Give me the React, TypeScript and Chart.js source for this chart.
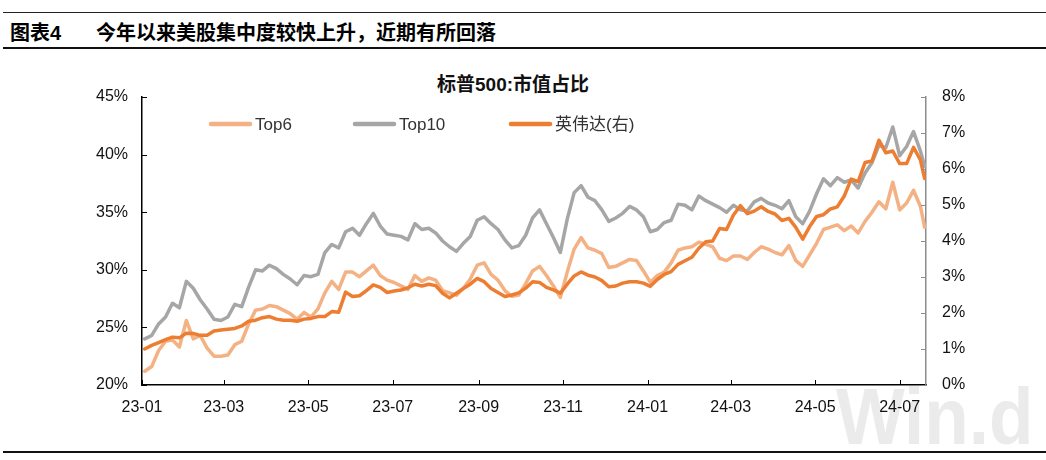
import React, { useEffect, useRef } from 'react';
import { Chart, registerables } from 'chart.js';

Chart.register(...registerables);

const FONT = "'Liberation Sans', Arial, 'Noto Sans CJK SC', sans-serif";

const dates = [
  '2023-01-03', '2023-01-08', '2023-01-13', '2023-01-18', '2023-01-23', '2023-01-28',
  '2023-02-02', '2023-02-07', '2023-02-12', '2023-02-17', '2023-02-22', '2023-02-27',
  '2023-03-04', '2023-03-09', '2023-03-14', '2023-03-19', '2023-03-24', '2023-03-29',
  '2023-04-03', '2023-04-08', '2023-04-13', '2023-04-18', '2023-04-23', '2023-04-28',
  '2023-05-03', '2023-05-08', '2023-05-13', '2023-05-18', '2023-05-23', '2023-05-28',
  '2023-06-02', '2023-06-07', '2023-06-12', '2023-06-17', '2023-06-22', '2023-06-27',
  '2023-07-02', '2023-07-07', '2023-07-12', '2023-07-17', '2023-07-22', '2023-07-27',
  '2023-08-01', '2023-08-06', '2023-08-11', '2023-08-16', '2023-08-21', '2023-08-26', '2023-08-31',
  '2023-09-05', '2023-09-10', '2023-09-15', '2023-09-20', '2023-09-25', '2023-09-30',
  '2023-10-05', '2023-10-10', '2023-10-15', '2023-10-20', '2023-10-25', '2023-10-30',
  '2023-11-04', '2023-11-09', '2023-11-14', '2023-11-19', '2023-11-24', '2023-11-29',
  '2023-12-04', '2023-12-09', '2023-12-14', '2023-12-19', '2023-12-24', '2023-12-29',
  '2024-01-03', '2024-01-08', '2024-01-13', '2024-01-18', '2024-01-23', '2024-01-28',
  '2024-02-02', '2024-02-07', '2024-02-12', '2024-02-17', '2024-02-22', '2024-02-27',
  '2024-03-03', '2024-03-08', '2024-03-13', '2024-03-18', '2024-03-23', '2024-03-28',
  '2024-04-02', '2024-04-07', '2024-04-12', '2024-04-17', '2024-04-22', '2024-04-27',
  '2024-05-02', '2024-05-07', '2024-05-12', '2024-05-17', '2024-05-22', '2024-05-27',
  '2024-06-01', '2024-06-06', '2024-06-11', '2024-06-16', '2024-06-21', '2024-06-26',
  '2024-07-01', '2024-07-06', '2024-07-11', '2024-07-16', '2024-07-19',
];

const top6 = [
  21.2, 21.6, 23.0, 23.8, 23.9, 23.3,
  25.6, 24.0, 24.3, 23.2, 22.5, 22.5,
  22.6, 23.5, 23.8, 25.3, 26.5, 26.6,
  26.9, 26.8, 26.5, 26.2, 25.7, 26.3,
  25.9, 26.6, 28.0, 29.0, 28.3, 29.8,
  29.8, 29.4, 29.9, 30.4, 29.5, 29.1,
  28.9, 28.6, 28.3, 29.5, 29.0, 29.3,
  29.1, 28.2, 28.0, 27.8, 28.4, 29.2, 30.4,
  30.6, 29.6, 29.1, 28.2, 27.7, 27.8,
  28.8, 29.9, 30.3, 29.5, 28.6, 27.6,
  29.8, 31.8, 32.8, 31.9, 31.7, 31.4,
  30.2, 30.3, 30.6, 30.9, 30.8, 29.9,
  28.9, 29.5, 29.8, 30.6, 31.7, 31.9,
  32.0, 32.4, 32.2, 32.0, 31.0, 30.8,
  31.2, 31.2, 30.9, 31.5, 32.0, 31.8,
  31.5, 31.3, 32.1, 30.8, 30.3, 31.3,
  32.3, 33.5, 33.7, 33.9, 33.4, 33.8,
  33.2, 34.2, 35.0, 35.9, 35.3, 37.6,
  35.2, 35.8, 36.9, 35.5, 33.7,
];

const top10 = [
  24.0, 24.3, 25.3, 25.9, 27.1, 26.7,
  29.0, 28.4, 27.4, 26.6, 25.7, 25.6,
  25.9, 27.0, 26.8, 28.5, 30.0, 29.9,
  30.4, 30.1, 29.6, 29.2, 28.7, 29.5,
  29.4, 29.6, 31.5, 32.2, 31.9, 33.3,
  33.6, 33.0, 34.0, 34.9, 33.8, 33.1,
  33.0, 32.9, 32.6, 34.0, 33.5, 33.6,
  33.2, 32.5, 32.0, 31.6, 32.3, 32.9, 34.3,
  34.6, 34.0, 33.5, 32.6, 31.9, 32.1,
  33.0, 34.5, 35.2, 34.0, 32.8, 31.5,
  34.4, 36.7, 37.3, 36.3, 36.0, 35.2,
  34.2, 34.5, 34.9, 35.5, 35.2, 34.6,
  33.3, 33.5, 34.1, 34.3, 35.7, 35.6,
  35.2, 36.4, 36.0, 35.7, 35.4, 35.0,
  35.6, 35.2, 35.1, 35.9, 36.2, 35.8,
  35.6, 35.3, 36.0, 34.6, 34.0, 35.1,
  36.6, 37.9, 37.3, 38.0, 37.6, 37.8,
  37.1, 38.4, 39.3, 40.8, 40.6, 42.4,
  39.9, 40.7, 42.0, 40.3, 39.0,
];

const nvda = [
  1.00, 1.10, 1.18, 1.26, 1.33, 1.31,
  1.44, 1.43, 1.38, 1.38, 1.50, 1.53,
  1.55, 1.57, 1.64, 1.77, 1.80, 1.87,
  1.90, 1.83, 1.80, 1.80, 1.77, 1.83,
  1.85, 1.90, 1.90, 2.04, 2.02, 2.58,
  2.46, 2.48, 2.62, 2.78, 2.71, 2.57,
  2.61, 2.64, 2.70, 2.80, 2.75, 2.80,
  2.76, 2.55, 2.42, 2.55, 2.68, 2.80, 2.96,
  2.87, 2.68, 2.57, 2.46, 2.50, 2.56,
  2.69, 2.87, 2.85, 2.71, 2.64, 2.55,
  2.80, 3.03, 3.14, 3.05, 3.00, 2.90,
  2.73, 2.75, 2.83, 2.87, 2.87, 2.83,
  2.74, 2.93, 3.07, 3.15, 3.35, 3.45,
  3.55, 3.80, 3.98, 4.00, 4.35, 4.32,
  4.72, 4.98, 4.76, 4.83, 4.95, 4.82,
  4.75, 4.57, 4.63, 4.38, 4.05, 4.40,
  4.68, 4.73, 4.89, 4.95, 5.25, 5.72,
  5.65, 6.18, 6.22, 6.80, 6.45, 6.50,
  6.15, 6.15, 6.60, 6.25, 5.74,
];

const seriesLabels = ['Top6', 'Top10', '英伟达(右)'];
const seriesColors = ['#F4B183', '#A6A6A6', '#ED7D31'];
const xTickLabels = ['23-01', '23-03', '23-05', '23-07', '23-09', '23-11', '24-01', '24-03', '24-05', '24-07'];
const xEndDate = '2024-07-20';
const leftRange = [20, 45, 5];
const rightRange = [0, 8, 1];

const BASE = Date.UTC(2023, 0, 1);
const dayOffset = (iso: string) => {
  const [y, m, d] = iso.split('-').map(Number);
  return (Date.UTC(y, m - 1, d) - BASE) / 86400000;
};
const monthOffset = (lbl: string) => {
  const [yy, mm] = lbl.split('-').map(Number);
  return (Date.UTC(2000 + yy, mm - 1, 1) - BASE) / 86400000;
};

const legendPlugin = {
  id: 'customLegend',
  afterDraw(chart: any) {
    const ctx = chart.ctx;
    const xs = [209, 353, 509];
    const y = 69;
    chart.data.datasets.forEach((ds: any, i: number) => {
      ctx.save();
      ctx.strokeStyle = ds.borderColor;
      ctx.lineWidth = 4.5;
      ctx.lineCap = 'round';
      ctx.beginPath();
      ctx.moveTo(xs[i] + 2, y);
      ctx.lineTo(xs[i] + 41, y);
      ctx.stroke();
      ctx.fillStyle = '#333';
      ctx.font = `17px ${FONT}`;
      ctx.textBaseline = 'middle';
      ctx.textAlign = 'left';
      ctx.fillText(ds.label, xs[i] + 46, y + 1);
      ctx.restore();
    });
  },
};

const innerTicksPlugin = {
  id: 'innerTicks',
  afterDraw(chart: any) {
    const ctx = chart.ctx;
    const { x, y, y1 } = chart.scales;
    const area = chart.chartArea;
    ctx.save();
    ctx.lineWidth = 1;
    ctx.strokeStyle = '#000';
    x.ticks.forEach((t: any) => {
      const px = Math.round(x.getPixelForValue(t.value)) + 0.5;
      ctx.beginPath();
      ctx.moveTo(px, area.bottom);
      ctx.lineTo(px, area.bottom - 5);
      ctx.stroke();
    });
    y.ticks.forEach((t: any) => {
      const py = Math.round(y.getPixelForValue(t.value)) + 0.5;
      ctx.beginPath();
      ctx.moveTo(area.left, py);
      ctx.lineTo(area.left + 5, py);
      ctx.stroke();
    });
    ctx.strokeStyle = '#8c8c8c';
    y1.ticks.forEach((t: any) => {
      const py = Math.round(y1.getPixelForValue(t.value)) + 0.5;
      ctx.beginPath();
      ctx.moveTo(area.right, py);
      ctx.lineTo(area.right - 5, py);
      ctx.stroke();
    });
    ctx.restore();
  },
};

export default function App() {
  const canvasRef = useRef<HTMLCanvasElement | null>(null);

  useEffect(() => {
    if (!canvasRef.current) return;
    const xs = dates.map(dayOffset);
    const mk = (vals: number[]) => vals.map((v, i) => ({ x: xs[i], y: v }));
    const values = [top6, top10, nvda];
    const axisIds = ['y', 'y', 'y1'];
    const orders = [2, 1, 0];
    const chart = new Chart(canvasRef.current, {
      type: 'line',
      data: {
        datasets: seriesLabels.map((label, i) => ({
          label,
          data: mk(values[i]),
          borderColor: seriesColors[i],
          backgroundColor: seriesColors[i],
          borderWidth: 3.5,
          pointRadius: 0,
          tension: 0,
          borderCapStyle: 'round',
          borderJoinStyle: 'round',
          yAxisID: axisIds[i],
          order: orders[i],
        })),
      },
      options: {
        animation: false,
        responsive: false,
        layout: { padding: { top: 42, left: 0, right: 0, bottom: 0 } },
        plugins: {
          legend: { display: false },
          tooltip: { enabled: false },
          title: { display: false },
        },
        scales: {
          x: {
            type: 'linear',
            min: 0,
            max: dayOffset(xEndDate),
            afterBuildTicks: (scale: any) => {
              scale.ticks = xTickLabels.map((l) => ({ value: monthOffset(l) }));
            },
            afterFit: (scale: any) => {
              scale.height = 50;
            },
            grid: { display: true, drawOnChartArea: false, drawTicks: false },
            border: { display: true, color: '#000', width: 1.5 },
            ticks: {
              autoSkip: false,
              maxRotation: 0,
              padding: 13,
              color: '#111',
              font: { family: FONT, size: 16 },
              callback: (value: any) => {
                const idx = xTickLabels.findIndex((l) => monthOffset(l) === value);
                return idx >= 0 ? xTickLabels[idx] : '';
              },
            },
          },
          y: {
            type: 'linear',
            position: 'left',
            min: leftRange[0],
            max: leftRange[1],
            afterFit: (scale: any) => {
              scale.width = 142;
            },
            grid: { display: true, drawOnChartArea: false, drawTicks: false },
            border: { display: true, color: '#000', width: 1.5 },
            ticks: {
              stepSize: leftRange[2],
              padding: 14,
              color: '#111',
              font: { family: FONT, size: 16 },
              callback: (v: any) => `${v}%`,
            },
          },
          y1: {
            type: 'linear',
            position: 'right',
            min: rightRange[0],
            max: rightRange[1],
            afterFit: (scale: any) => {
              scale.width = 120;
            },
            grid: { display: true, drawOnChartArea: false, drawTicks: false },
            border: { display: true, color: '#8c8c8c', width: 1.5 },
            ticks: {
              stepSize: rightRange[2],
              padding: 16,
              color: '#111',
              font: { family: FONT, size: 16 },
              callback: (v: any) => `${v}%`,
            },
          },
        },
      },
      plugins: [legendPlugin, innerTicksPlugin],
    } as any);
    return () => chart.destroy();
  }, []);

  return (
    <div
      style={{
        position: 'absolute',
        left: 0,
        top: 0,
        width: 1046,
        height: 460,
        background: '#fff',
        overflow: 'hidden',
        fontFamily: FONT,
      }}
    >
      <div style={{ position: 'absolute', left: 3, right: 0, top: 12, borderTop: '1.5px solid #222' }} />
      <div
        style={{
          position: 'absolute',
          left: 10,
          top: 22,
          fontSize: 20,
          lineHeight: '22px',
          fontWeight: 'bold',
          color: '#000',
          whiteSpace: 'nowrap',
        }}
      >
        图表4
      </div>
      <div
        style={{
          position: 'absolute',
          left: 96,
          top: 22,
          fontSize: 20,
          lineHeight: '22px',
          fontWeight: 'bold',
          color: '#000',
          whiteSpace: 'nowrap',
        }}
      >
        今年以来美股集中度较快上升，近期有所回落
      </div>
      <div style={{ position: 'absolute', left: 3, right: 0, top: 47, borderTop: '2.5px solid #111' }} />
      <div
        style={{
          position: 'absolute',
          left: 836,
          top: 377,
          fontSize: 80,
          lineHeight: '80px',
          fontWeight: 'bold',
          color: '#ebebeb',
          whiteSpace: 'nowrap',
          transform: 'scaleX(0.91)',
          transformOrigin: 'left top',
        }}
      >
        Win.d
      </div>
      <div
        style={{
          position: 'absolute',
          left: 437,
          top: 74,
          fontSize: 19,
          lineHeight: '22px',
          fontWeight: 'bold',
          color: '#111',
          whiteSpace: 'nowrap',
        }}
      >
        标普500:市值占比
      </div>
      <canvas
        ref={canvasRef}
        width={1046}
        height={380}
        style={{ position: 'absolute', left: 0, top: 55, width: 1046, height: 380 }}
      />
      <div style={{ position: 'absolute', left: 3, right: 0, top: 451, borderTop: '2px solid #111' }} />
    </div>
  );
}
